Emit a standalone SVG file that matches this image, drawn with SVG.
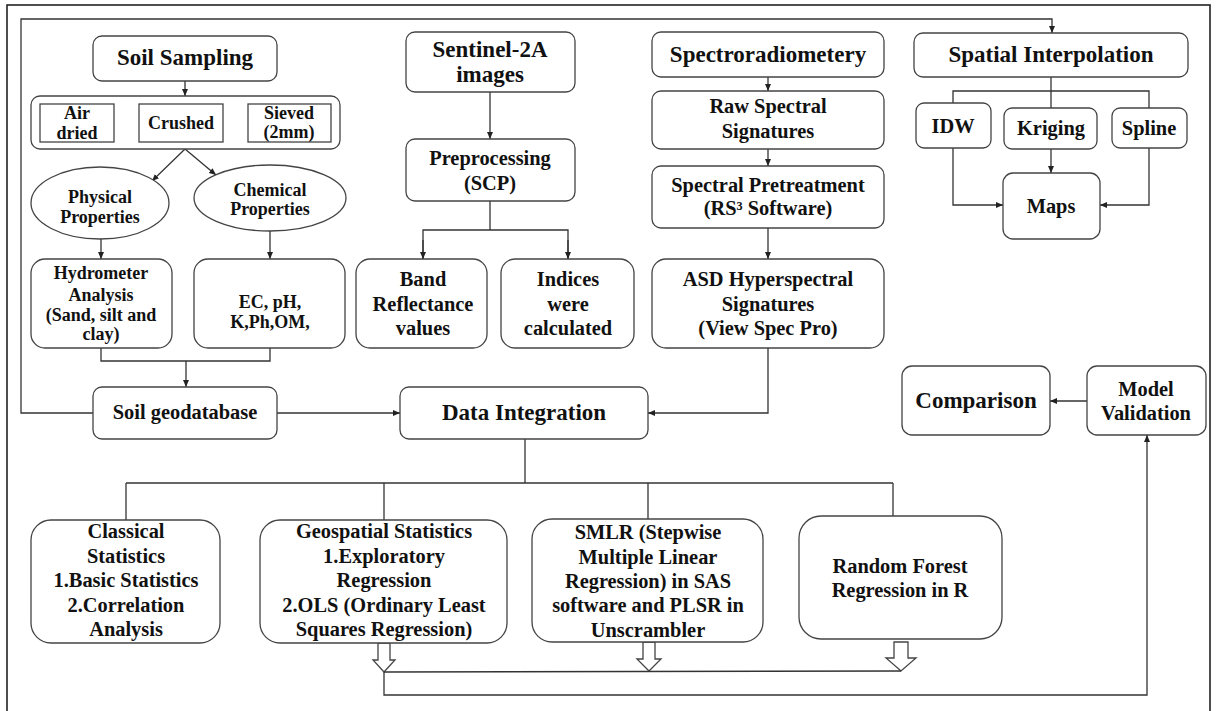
<svg xmlns="http://www.w3.org/2000/svg" width="1217" height="711" viewBox="0 0 1217 711">
<style>
.box{fill:#fff;stroke:#444;stroke-width:1.3}
.c{fill:none;stroke:#333;stroke-width:1.3}
text{font-family:'Liberation Serif','DejaVu Serif',serif;font-weight:700;fill:#111;text-anchor:middle}
.f22{font-size:23px}.f20{font-size:20.4px}.f18{font-size:18px}
</style>
<defs>
<marker id="a" markerUnits="userSpaceOnUse" markerWidth="8" markerHeight="7" refX="7" refY="3.5" orient="auto">
<path d="M0,0.5 L7,3.5 L0,6.5 z" fill="#222"/>
</marker>
</defs>
<rect x="0" y="0" width="1217" height="711" fill="#fff"/>
<rect x="7" y="5" width="1203" height="720" fill="none" stroke="#222" stroke-width="1.6"/>

<g id="connectors">
<line class="c" x1="185" y1="81" x2="185" y2="96" marker-end="url(#a)"/>
<line class="c" x1="114" y1="124" x2="139" y2="124" marker-end="url(#a)"/>
<line class="c" x1="223" y1="124" x2="248" y2="124" marker-end="url(#a)"/>
<line class="c" x1="185" y1="149" x2="152" y2="181" marker-end="url(#a)"/>
<line class="c" x1="185" y1="149" x2="216" y2="175" marker-end="url(#a)"/>
<line class="c" x1="101" y1="239" x2="101" y2="259" marker-end="url(#a)"/>
<line class="c" x1="270" y1="231" x2="270" y2="259" marker-end="url(#a)"/>
<polyline class="c" points="101,348 101,361 270,361 270,348"/>
<line class="c" x1="186" y1="361" x2="186" y2="387" marker-end="url(#a)"/>
<line class="c" x1="277" y1="413" x2="400" y2="413" marker-end="url(#a)"/>
<polyline class="c" points="93,413 21,413 21,19 1052,19 1052,33" marker-end="url(#a)"/>
<line class="c" x1="490" y1="92" x2="490" y2="139" marker-end="url(#a)"/>
<polyline class="c" points="490,201 490,230"/>
<polyline class="c" points="423,259 423,230 568,230 568,259"/>
<line class="c" x1="423" y1="240" x2="423" y2="259" marker-end="url(#a)"/>
<line class="c" x1="568" y1="240" x2="568" y2="259" marker-end="url(#a)"/>
<line class="c" x1="768" y1="77" x2="768" y2="91" marker-end="url(#a)"/>
<line class="c" x1="768" y1="149" x2="768" y2="166" marker-end="url(#a)"/>
<line class="c" x1="768" y1="228" x2="768" y2="259" marker-end="url(#a)"/>
<polyline class="c" points="768,348 768,413 648,413" marker-end="url(#a)"/>
<line class="c" x1="1051" y1="77" x2="1051" y2="108"/>
<polyline class="c" points="953,103 953,91 1149,91 1149,108"/>
<line class="c" x1="1051" y1="149" x2="1051" y2="173" marker-end="url(#a)"/>
<polyline class="c" points="953,148 953,205 1003,205" marker-end="url(#a)"/>
<polyline class="c" points="1149,148 1149,205 1100,205" marker-end="url(#a)"/>
<line class="c" x1="1087" y1="401" x2="1050" y2="401" marker-end="url(#a)"/>
<line class="c" x1="525" y1="439" x2="525" y2="483"/>
<line class="c" x1="126" y1="483" x2="893" y2="483"/>
<line class="c" x1="126" y1="483" x2="126" y2="520"/>
<line class="c" x1="384" y1="483" x2="384" y2="520"/>
<line class="c" x1="648" y1="483" x2="648" y2="519"/>
<line class="c" x1="893" y1="483" x2="893" y2="516"/>
<polygon class="box" points="378,643 390,643 390,660 395,660 384,672 373,660 378,660"/>
<polygon class="box" points="643,642 655,642 655,659 661,659 649,671 637,659 643,659"/>
<polygon class="box" points="894,642 908,642 908,658 916,658 901,671 886,658 894,658"/>
<line class="c" x1="384" y1="672" x2="901" y2="671"/>
<polyline class="c" points="384,672 384,695 1147,695 1147,435" marker-end="url(#a)"/>
</g>

<g id="soil-sampling"><rect class="box" x="93" y="36" width="184" height="45" rx="9"/><text class="f22" x="185" y="65">Soil Sampling</text></g>
<g id="prep-container"><rect class="box" x="31" y="96" width="309" height="53" rx="9"/></g>
<g id="air-dried"><rect class="box" x="40" y="104" width="74" height="38"/><text class="f18" x="77" y="119">Air</text><text class="f18" x="77" y="139">dried</text></g>
<g id="crushed"><rect class="box" x="139" y="104" width="84" height="38"/><text class="f18" x="181" y="129">Crushed</text></g>
<g id="sieved"><rect class="box" x="248" y="104" width="83" height="38"/><text class="f18" x="289" y="119">Sieved</text><text class="f18" x="289" y="138">(2mm)</text></g>
<g id="physical"><ellipse class="box" cx="100" cy="203" rx="69" ry="36"/><text class="f18" x="100" y="203">Physical</text><text class="f18" x="100" y="223">Properties</text></g>
<g id="chemical"><ellipse class="box" cx="270" cy="198" rx="76" ry="33"/><text class="f18" x="270" y="196">Chemical</text><text class="f18" x="270" y="215">Properties</text></g>
<g id="hydrometer"><rect class="box" x="31" y="259" width="141" height="89" rx="14"/><text class="f18" x="101" y="279">Hydrometer</text><text class="f18" x="101" y="301">Analysis</text><text class="f18" x="101" y="321">(Sand, silt and</text><text class="f18" x="101" y="340">clay)</text></g>
<g id="ec"><rect class="box" x="194" y="259" width="151" height="89" rx="14"/><text class="f18" x="270" y="308">EC, pH,</text><text class="f18" x="270" y="328">K,Ph,OM,</text></g>
<g id="soil-geodatabase"><rect class="box" x="93" y="387" width="184" height="52" rx="9"/><text class="f20" x="185" y="419">Soil geodatabase</text></g>
<g id="sentinel"><rect class="box" x="406" y="32" width="169" height="60" rx="9"/><text class="f22" x="490" y="57">Sentinel-2A</text><text class="f22" x="490" y="82">images</text></g>
<g id="preprocessing"><rect class="box" x="406" y="139" width="169" height="62" rx="9"/><text class="f20" x="490" y="165">Preprocessing</text><text class="f20" x="490" y="190">(SCP)</text></g>
<g id="band"><rect class="box" x="356" y="259" width="131" height="89" rx="14"/><text class="f20" x="423" y="286">Band</text><text class="f20" x="423" y="311">Reflectance</text><text class="f20" x="423" y="335">values</text></g>
<g id="indices"><rect class="box" x="501" y="259" width="133" height="89" rx="14"/><text class="f20" x="568" y="286">Indices</text><text class="f20" x="568" y="311">were</text><text class="f20" x="568" y="335">calculated</text></g>
<g id="spectro"><rect class="box" x="652" y="32" width="232" height="45" rx="9"/><text class="f22" x="768" y="62">Spectroradiometery</text></g>
<g id="raw"><rect class="box" x="652" y="91" width="232" height="58" rx="9"/><text class="f20" x="768" y="113">Raw Spectral</text><text class="f20" x="768" y="138">Signatures</text></g>
<g id="pretreatment"><rect class="box" x="652" y="166" width="232" height="62" rx="9"/><text class="f20" x="768" y="192">Spectral Pretreatment</text><text class="f20" x="768" y="215">(RS³ Software)</text></g>
<g id="asd"><rect class="box" x="652" y="259" width="232" height="89" rx="14"/><text class="f20" x="768" y="286">ASD Hyperspectral</text><text class="f20" x="768" y="311">Signatures</text><text class="f20" x="768" y="335">(View Spec Pro)</text></g>
<g id="data-integration"><rect class="box" x="400" y="387" width="248" height="52" rx="9"/><text class="f22" x="524" y="420">Data Integration</text></g>
<g id="spatial"><rect class="box" x="914" y="33" width="274" height="44" rx="9"/><text class="f22" x="1051" y="62">Spatial Interpolation</text></g>
<g id="idw"><rect class="box" x="916" y="103" width="75" height="45" rx="8"/><text class="f20" x="953" y="133">IDW</text></g>
<g id="kriging"><rect class="box" x="1004" y="108" width="93" height="41" rx="8"/><text class="f20" x="1051" y="135">Kriging</text></g>
<g id="spline"><rect class="box" x="1112" y="108" width="75" height="40" rx="8"/><text class="f20" x="1149" y="135">Spline</text></g>
<g id="maps"><rect class="box" x="1003" y="173" width="97" height="66" rx="10"/><text class="f20" x="1051" y="213">Maps</text></g>
<g id="comparison"><rect class="box" x="902" y="366" width="148" height="69" rx="10"/><text class="f22" x="976" y="408">Comparison</text></g>
<g id="model-validation"><rect class="box" x="1087" y="366" width="119" height="69" rx="10"/><text class="f20" x="1146" y="396">Model</text><text class="f20" x="1146" y="420">Validation</text></g>
<g id="classical"><rect class="box" x="31" y="520" width="189" height="123" rx="20"/><text class="f20" x="126" y="538">Classical</text><text class="f20" x="126" y="562.5">Statistics</text><text class="f20" x="126" y="587">1.Basic Statistics</text><text class="f20" x="126" y="611.5">2.Correlation</text><text class="f20" x="126" y="636">Analysis</text></g>
<g id="geospatial"><rect class="box" x="260" y="520" width="247" height="123" rx="20"/><text class="f20" x="384" y="538">Geospatial Statistics</text><text class="f20" x="384" y="562.5">1.Exploratory</text><text class="f20" x="384" y="587">Regression</text><text class="f20" x="384" y="611.5">2.OLS (Ordinary Least</text><text class="f20" x="384" y="636">Squares Regression)</text></g>
<g id="smlr"><rect class="box" x="532" y="519" width="231" height="123" rx="20"/><text class="f20" x="648" y="539">SMLR (Stepwise</text><text class="f20" x="648" y="564">Multiple Linear</text><text class="f20" x="648" y="588">Regression) in SAS</text><text class="f20" x="648" y="612">software and PLSR in</text><text class="f20" x="648" y="637">Unscrambler</text></g>
<g id="random-forest"><rect class="box" x="799" y="516" width="203" height="123" rx="22"/><text class="f20" x="900" y="573">Random Forest</text><text class="f20" x="900" y="597">Regression in R</text></g>
</svg>
